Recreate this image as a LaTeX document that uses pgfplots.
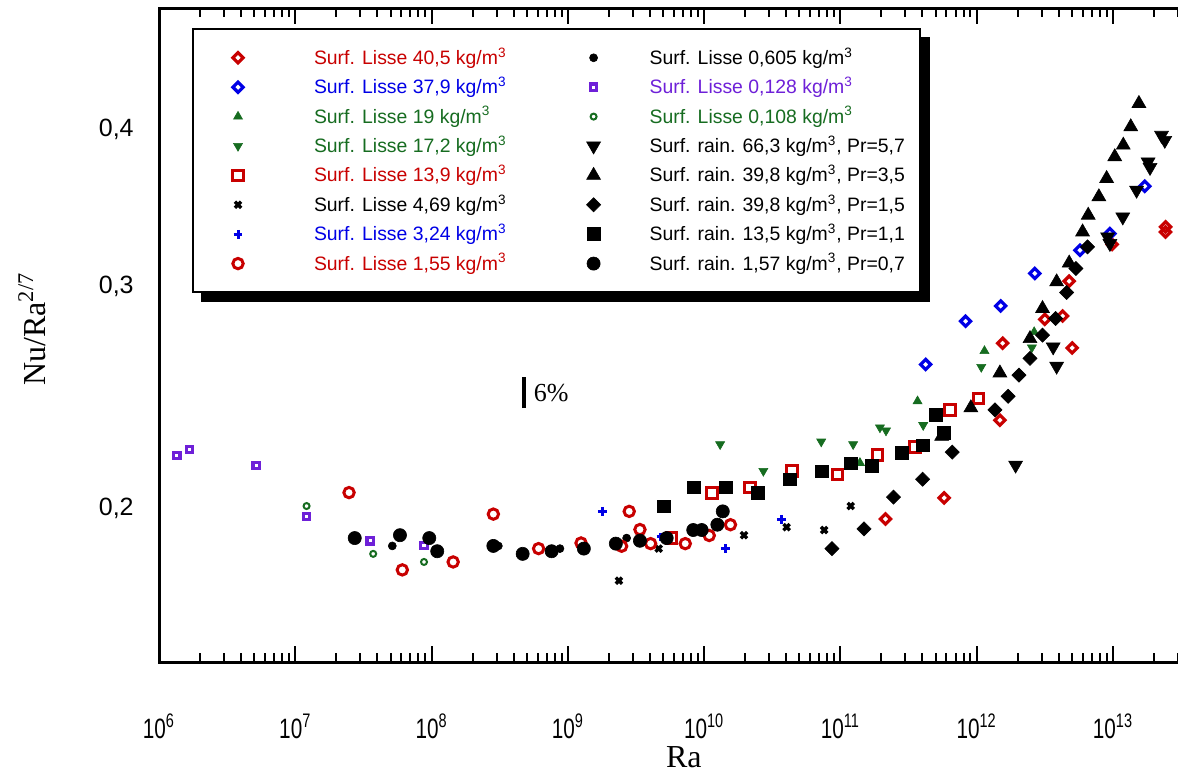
\documentclass[border=0pt]{standalone}
\usepackage{fontspec}
\setmainfont{Liberation Sans}
\newfontfamily\serif{Liberation Serif}
\newfontfamily\narrow[FakeStretch=0.74]{Liberation Sans}
\usepackage{pgfplots}
\pgfplotsset{compat=1.18}
\usetikzlibrary{backgrounds}
\definecolor{cred}{RGB}{200,0,0}
\definecolor{cblue}{RGB}{0,0,230}
\definecolor{cgreen}{RGB}{22,108,32}
\definecolor{cpurple}{RGB}{110,32,216}
\pgfplotsset{pt/.style={only marks, legend image code/.code={\path[draw=none,fill=none] (-15pt,0pt) -- (5pt,0pt); \path[##1, draw=none, only marks] plot coordinates {(0pt,0pt)};}}}
\begin{document}
\begin{tikzpicture}
\begin{loglogaxis}[
  scale only axis, width=509.5pt, height=327pt,
  xmin=1e6, xmax=3e13, ymin=0.151, ymax=0.499,
  clip=false,
  axis line style={draw=none},
  tick style={line width=1pt, color=black},
  major tick length=8pt, minor tick length=4.5pt,
  xtick={1e6,1e7,1e8,1e9,1e10,1e11,1e12,1e13},
  xticklabels={10\textsuperscript{6},10\textsuperscript{7},10\textsuperscript{8},10\textsuperscript{9},10\textsuperscript{10},10\textsuperscript{11},10\textsuperscript{12},10\textsuperscript{13}},
  minor xtick={2e6,3e6,4e6,5e6,6e6,7e6,8e6,9e6,2e7,3e7,4e7,5e7,6e7,7e7,8e7,9e7,2e8,3e8,4e8,5e8,6e8,7e8,8e8,9e8,2e9,3e9,4e9,5e9,6e9,7e9,8e9,9e9,2e10,3e10,4e10,5e10,6e10,7e10,8e10,9e10,2e11,3e11,4e11,5e11,6e11,7e11,8e11,9e11,2e12,3e12,4e12,5e12,6e12,7e12,8e12,9e12,2e13,3e13},
  xticklabel style={font=\narrow\fontsize{14}{14}\selectfont, anchor=base, yshift=-38pt},
  ytick=\empty,
  minor ytick={0.2,0.3,0.4},
  extra y ticks={0.2,0.3,0.4},
  extra y tick labels={{0,2},{0,3},{0,4}},
  extra y tick style={major tick length=0pt},
  yticklabel style={font=\fontsize{12.5}{12.5}\selectfont, anchor=east, inner sep=0pt, xshift=-12.5pt},
  xlabel={Ra},
  xlabel style={font=\serif\fontsize{16}{16}\selectfont, at={(axis description cs:0.515,0)}, anchor=base, yshift=-52.5pt},
  ylabel={Nu/Ra\textsuperscript{2/7}},
  ylabel style={font=\serif\fontsize{16}{16}\selectfont, at={(axis description cs:-0.1246,0.509)}, anchor=center},
  legend columns=2,
  legend cell align=left,
  legend style={
    name=leg,
    at={(axis description cs:0.0324,0.969)}, anchor=north west,
    draw=black, line width=1pt, fill=white,
    inner xsep=7.5pt, inner ysep=8.5pt,
    font=\fontsize{9.7}{11}\selectfont,
    nodes={inner sep=0pt, text height=9pt, text depth=2.5pt},
    row sep=3.2pt,
    /tikz/column 1/.style={column sep=33pt},
    /tikz/column 2/.style={column sep=28.5pt},
    /tikz/column 3/.style={column sep=23pt},
  },
]
\coordinate (bl) at (rel axis cs:0,0);
\coordinate (tr) at (rel axis cs:1,1);
\draw[line width=1.5pt, line join=miter] (rel axis cs:1,1) -- (rel axis cs:0,1) -- (rel axis cs:0,0) -- (rel axis cs:1,0);

% row 1
\addplot[pt, mark=square, mark options={rotate=45, draw=cred, fill=white, line width=1.6pt}, mark size=1.8pt] coordinates {
(2.14e11,0.1961)(5.77e11,0.2038)(1.48e12,0.2349)(1.55e12,0.2704)(3.16e12,0.2825)(4.27e12,0.2842)(4.77e12,0.3029)(5.02e12,0.2681)(9.86e12,0.3239)(2.43e13,0.3345)(2.43e13,0.3314)};
\addlegendentry{\textcolor{cred}{Surf. Lisse 40,5 kg/m\textsuperscript{3}}}
\addplot[pt, mark=*, mark options={draw=black, fill=black, line width=0.3pt}, mark size=2pt] coordinates {
(5.15e7,0.1867)(3.09e8,0.1867)(8.75e8,0.1858)(2.70e9,0.1894)};
\addlegendentry{Surf. Lisse 0,605 kg/m\textsuperscript{3}}
% row 2
\addplot[pt, mark=square, mark options={rotate=45, draw=cblue, fill=white, line width=1.6pt}, mark size=1.8pt] coordinates {
(4.22e11,0.2601)(8.29e11,0.2815)(1.50e12,0.2895)(2.67e12,0.3072)(5.72e12,0.3205)(9.49e12,0.3304)(1.71e13,0.3603)};
\addlegendentry{\textcolor{cblue}{Surf. Lisse 37,9 kg/m\textsuperscript{3}}}
\addplot[pt, mark=square, mark options={draw=cpurple, fill=white, line width=1.6pt}, mark size=1.6pt] coordinates {
(1.35e6,0.2203)(1.67e6,0.2227)(5.17e6,0.2162)(1.21e7,0.1970)(3.55e7,0.1885)(8.8e7,0.1868)};
\addlegendentry{\textcolor{cpurple}{Surf. Lisse 0,128 kg/m\textsuperscript{3}}}
% row 3
\addplot[pt, mark=triangle*, mark options={draw=cgreen, fill=cgreen, line width=0.3pt}, mark size=2.6pt] coordinates {
(1.39e11,0.2173)(3.68e11,0.2432)(1.14e12,0.2666)(2.64e12,0.2760)};
\addlegendentry{\textcolor{cgreen}{Surf. Lisse 19 kg/m\textsuperscript{3}}}
\addplot[pt, mark=o, mark options={draw=cgreen, fill=white, line width=1pt}, mark size=1.5pt] coordinates {
(1.21e7,0.2008)(3.73e7,0.1840)(8.8e7,0.1813)};
\addlegendentry{\textcolor{cgreen}{Surf. Lisse 0,108 kg/m\textsuperscript{3}}}
% row 4
\addplot[pt, mark=triangle*, mark options={rotate=180, draw=cgreen, fill=cgreen, line width=0.3pt}, mark size=2.6pt] coordinates {
(1.31e10,0.2248)(2.72e10,0.2141)(7.23e10,0.2259)(1.24e11,0.2248)(1.95e11,0.2318)(2.16e11,0.2305)(4.05e11,0.2328)(1.08e12,0.2589)(2.54e12,0.2683)};
\addlegendentry{\textcolor{cgreen}{Surf. Lisse 17,2 kg/m\textsuperscript{3}}}
\addplot[pt, mark=triangle*, mark options={rotate=180, draw=black, fill=black, line width=0.3pt}, mark size=4pt] coordinates {
(1.93e12,0.2164)(3.64e12,0.2686)(3.86e12,0.2593)(9.13e12,0.3284)(9.49e12,0.3245)(1.18e13,0.3406)(1.49e13,0.3577)(1.81e13,0.3767)(1.87e13,0.3729)(2.27e13,0.3955)(2.40e13,0.3919)};
\addlegendentry{Surf. rain. 66,3 kg/m\textsuperscript{3}, Pr=5,7}
% row 5
\addplot[pt, mark=square, mark options={draw=cred, fill=white, line width=1.5pt}, mark size=2.6pt] coordinates {
(5.78e9,0.1894)(1.14e10,0.2057)(2.17e10,0.2078)(4.41e10,0.2141)(9.53e10,0.2128)(1.88e11,0.2205)(3.52e11,0.2237)(6.36e11,0.2393)(1.03e12,0.2444)};
\addlegendentry{\textcolor{cred}{Surf. Lisse 13,9 kg/m\textsuperscript{3}}}
\addplot[pt, mark=triangle*, mark options={draw=black, fill=black, line width=0.3pt}, mark size=4pt] coordinates {
(5.53e11,0.2281)(9.06e11,0.2403)(1.48e12,0.2561)(2.46e12,0.2727)(3.04e12,0.2881)(3.86e12,0.3025)(4.77e12,0.3131)(5.98e12,0.3314)(6.58e12,0.3417)(7.88e12,0.3534)(8.98e12,0.3654)(1.03e13,0.3802)(1.19e13,0.3884)(1.35e13,0.4016)(1.55e13,0.4191)};
\addlegendentry{Surf. rain. 39,8 kg/m\textsuperscript{3}, Pr=3,5}
% row 6
\addplot[pt, mark=x, mark options={draw=black, line width=1.7pt}, mark size=2.2pt] coordinates {
(2.37e9,0.1752)(4.64e9,0.1858)(1.96e10,0.1904)(4.03e10,0.1932)(7.6e10,0.1922)(1.19e11,0.2008)};
\addlegendentry{Surf. Lisse 4,69 kg/m\textsuperscript{3}}
\addplot[pt, mark=square*, mark options={rotate=45, draw=black, fill=black, line width=0.3pt}, mark size=2.5pt] coordinates {
(8.66e10,0.1858)(1.49e11,0.1926)(2.45e11,0.2041)(4.01e11,0.2109)(6.61e11,0.2216)(1.36e12,0.2394)(1.70e12,0.2454)(2.04e12,0.2551)(2.46e12,0.2630)(3.04e12,0.2744)(3.79e12,0.2829)(4.57e12,0.2967)(5.35e12,0.3100)(6.51e12,0.3225)};
\addlegendentry{Surf. rain. 39,8 kg/m\textsuperscript{3}, Pr=1,5}
% row 7
\addplot[pt, mark=+, mark options={draw=cblue, line width=1.5pt}, mark size=2.2pt] coordinates {
(1.79e9,0.1989)(4.82e9,0.1898)(1.43e10,0.1858)(3.68e10,0.1960)};
\addlegendentry{\textcolor{cblue}{Surf. Lisse 3,24 kg/m\textsuperscript{3}}}
\addplot[pt, mark=square*, mark options={draw=black, fill=black, line width=0.3pt}, mark size=3.2pt] coordinates {
(5.07e9,0.2007)(8.41e9,0.2078)(1.45e10,0.2078)(2.48e10,0.2056)(4.26e10,0.2109)(7.31e10,0.2140)(1.19e11,0.2171)(1.70e11,0.2160)(2.83e11,0.2212)(4.03e11,0.2244)(5.02e11,0.2371)(5.74e11,0.2294)};
\addlegendentry{Surf. rain. 13,5 kg/m\textsuperscript{3}, Pr=1,1}
% row 8
\addplot[pt, mark=o, mark options={draw=cred, fill=white, line width=1.5pt}, mark size=2.6pt] coordinates {
(2.48e7,0.2058)(6.1e7,0.1787)(1.44e8,0.1813)(2.84e8,0.1979)(6.1e8,0.1858)(1.25e9,0.1877)(2.48e9,0.1866)(2.82e9,0.1989)(3.38e9,0.1924)(4.05e9,0.1875)(7.27e9,0.1875)(1.09e10,0.1903)(1.56e10,0.1941)};
\addlegendentry{\textcolor{cred}{Surf. Lisse 1,55 kg/m\textsuperscript{3}}}
\addplot[pt, mark=*, mark options={draw=black, fill=black, line width=0.3pt}, mark size=3.3pt] coordinates {
(2.73e7,0.1894)(5.86e7,0.1904)(9.62e7,0.1894)(1.10e8,0.1849)(2.84e8,0.1867)(4.66e8,0.1840)(7.6e8,0.1849)(1.31e9,0.1858)(2.25e9,0.1875)(3.38e9,0.1885)(5.31e9,0.1894)(8.32e9,0.1922)(9.59e9,0.1922)(1.25e10,0.1941)(1.37e10,0.1989)};
\addlegendentry{Surf. rain. 1,57 kg/m\textsuperscript{3}, Pr=0,7}

\draw[line width=1.6pt] (axis cs:4.77e8,0.2401) -- (axis cs:4.77e8,0.2541);
\node[anchor=west, inner sep=0pt, font=\serif\fontsize{13}{13}\selectfont] at (axis cs:5.6e8,0.2468) {6\%};
\end{loglogaxis}
\begin{pgfonlayer}{background}
\fill[black] ([xshift=4.5pt,yshift=-4.5pt]leg.south west) rectangle ([xshift=4.5pt,yshift=-4.5pt]leg.north east);
\end{pgfonlayer}
\pgfresetboundingbox
\path[use as bounding box] ([xshift=-79.5pt,yshift=-54.5pt]bl) rectangle ([yshift=4pt]tr);
\end{tikzpicture}
\end{document}
